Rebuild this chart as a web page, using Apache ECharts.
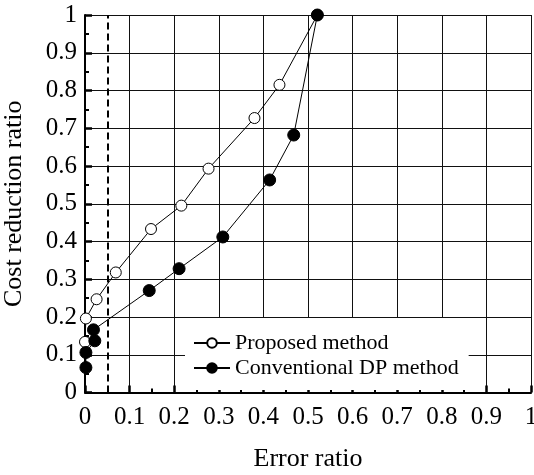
<!DOCTYPE html>
<html>
<head>
<meta charset="utf-8">
<script src="https://cdn.jsdelivr.net/npm/echarts@6/dist/echarts.min.js"></script>
<style>
html,body{margin:0;padding:0;background:#fff;}
#main{width:534px;height:475px;}
</style>
</head>
<body>
<div id="main"></div>
<script>
// values
var seriesNames = ['Proposed method', 'Conventional DP method'];
var proposedX = [0, 0.002, 0.026, 0.069, 0.148, 0.216, 0.277, 0.380, 0.436, 0.521];
var proposedY = [0.134, 0.196, 0.247, 0.318, 0.433, 0.495, 0.593, 0.727, 0.815, 1.0];
var dpX = [0.002, 0.002, 0.022, 0.019, 0.144, 0.211, 0.309, 0.414, 0.468, 0.521];
var dpY = [0.066, 0.106, 0.137, 0.166, 0.270, 0.328, 0.412, 0.563, 0.682, 1.0];
var thresholdX = 0.05;
var xName = 'Error ratio';
var yName = 'Cost reduction ratio';

function pairs(xs, ys){
	var out = [];
	for(var i=0;i<xs.length;i++){
		out.push([xs[i], ys[i]]);
	}
	return out;
}

var serif = "'Liberation Serif', 'Times New Roman', serif";
var myChart = echarts.init(document.getElementById('main'));

function axis(name, gap){
	return {
		type: 'value',
		min: 0,
		max: 1,
		interval: 0.1,
		name: name,
		nameLocation: 'middle',
		nameGap: gap,
		nameTextStyle: { fontFamily: serif, fontSize: 26, color: '#000' },
		axisLine: { show: true, onZero: false, lineStyle: { color: '#000', width: 2 } },
		axisTick: { show: true, inside: true, length: 7, lineStyle: { color: '#000', width: 2.5 } },
		minorTick: { show: true, splitNumber: 2, length: 4, lineStyle: { color: '#000', width: 2 } },
		splitLine: { show: true, lineStyle: { color: '#111', width: 1 } },
		axisLabel: { fontFamily: serif, fontSize: 25, color: '#000' }
	};
}

var xAxis = axis(xName, 54);
xAxis.axisLabel.margin = 12;
var yAxis = axis(yName, 58);
yAxis.axisLabel.margin = 8;

var option = {
	backgroundColor: '#fff',
	animation: false,
	grid: { left: 85, right: 3, top: 15, bottom: 82.5, outerBoundsMode: 'none', containLabel: false },
	xAxis: xAxis,
	yAxis: yAxis,
	legend: {
		orient: 'vertical',
		left: 185,
		top: 318,
		padding: [14, 10, 11, 8],
		backgroundColor: '#fff',
		itemWidth: 36,
		itemHeight: 12,
		itemGap: 3,
		textStyle: { fontFamily: serif, fontSize: 22, color: '#000', lineHeight: 22 },
		data: seriesNames
	},
	series: [
		{
			name: seriesNames[0],
			type: 'line',
			data: pairs(proposedX, proposedY),
			symbol: 'circle',
			symbolSize: 11,
			lineStyle: { color: '#000', width: 1 },
			itemStyle: { color: '#fff', borderColor: '#000', borderWidth: 1 },
			z: 3,
			markLine: {
				silent: true,
				symbol: 'none',
				label: { show: false },
				lineStyle: { color: '#000', width: 2, type: [7, 4] },
				data: [{ xAxis: thresholdX }]
			}
		},
		{
			name: seriesNames[1],
			type: 'line',
			data: pairs(dpX, dpY),
			symbol: 'circle',
			symbolSize: 12,
			lineStyle: { color: '#000', width: 1 },
			itemStyle: { color: '#000', borderColor: '#000', borderWidth: 1 },
			z: 4
		}
	]
};
myChart.setOption(option);
</script>
</body>
</html>
